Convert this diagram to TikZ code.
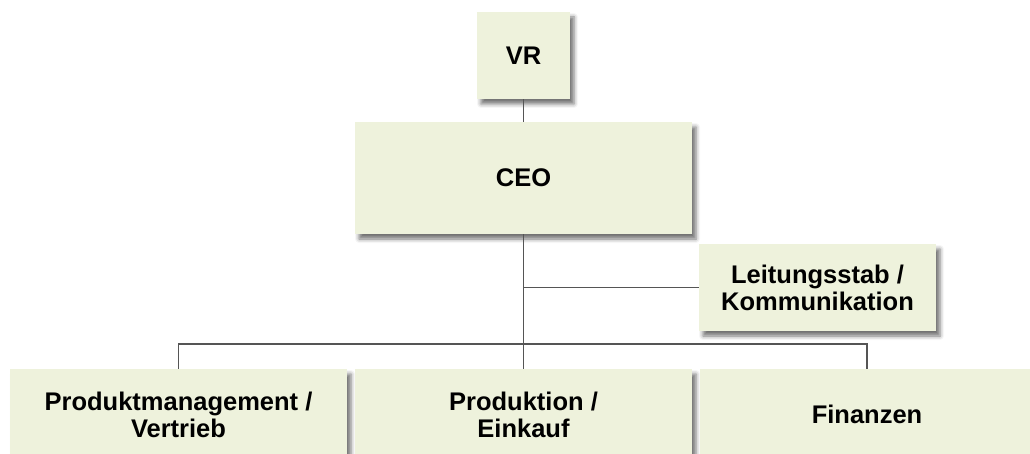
\documentclass[tikz,border=0pt]{standalone}
\usepackage{fontspec}
\setmainfont{Liberation Sans}
\definecolor{boxfill}{RGB}{238, 242, 220}
\definecolor{linegray}{RGB}{85, 85, 85}
\usepackage{tikz}
\usetikzlibrary{shadows.blur}

\tikzset{
  orgbox/.style={draw=none, fill=boxfill, align=center, inner sep=0pt,
    font=\fontsize{25.5}{27}\selectfont\bfseries,
    blur shadow={shadow xshift=4pt, shadow yshift=-5pt, shadow blur radius=4pt, shadow opacity=55}},
  link/.style={linegray, line width=1.3pt}
}

\begin{document}
\begin{tikzpicture}[x=1pt, y=-1pt]
  \useasboundingbox (0,0) rectangle (1030,454);
  \coordinate (bus) at (523.5,344);
  % boxes
  \node[orgbox, minimum width=93pt, minimum height=87pt] (vr) at (523.5,55.5) {VR};
  \node[orgbox, minimum width=337pt, minimum height=112pt] (ceo) at (523.5,178) {CEO};
  \node[orgbox, minimum width=237pt, minimum height=87pt] (stab) at (817.5,287.5) {Leitungsstab /\\Kommunikation};
  \node[orgbox, minimum width=337pt, minimum height=91pt] (prod) at (178.5,414.5) {Produktmanagement /\\Vertrieb};
  \node[orgbox, minimum width=337pt, minimum height=91pt] (prodk) at (523.5,414.5) {Produktion /\\Einkauf};
  \node[orgbox, minimum width=334pt, minimum height=91pt] (fin) at (867,414.5) {Finanzen};
  % connectors
  \draw[link] (vr.south) -- (ceo.north);
  \draw[link] (ceo.south) -- (prodk.north);
  \draw[link] (ceo.south |- stab.west) -- (stab.west);
  \draw[link] (prod.north) |- (bus) -| (fin.north);
\end{tikzpicture}
\end{document}
